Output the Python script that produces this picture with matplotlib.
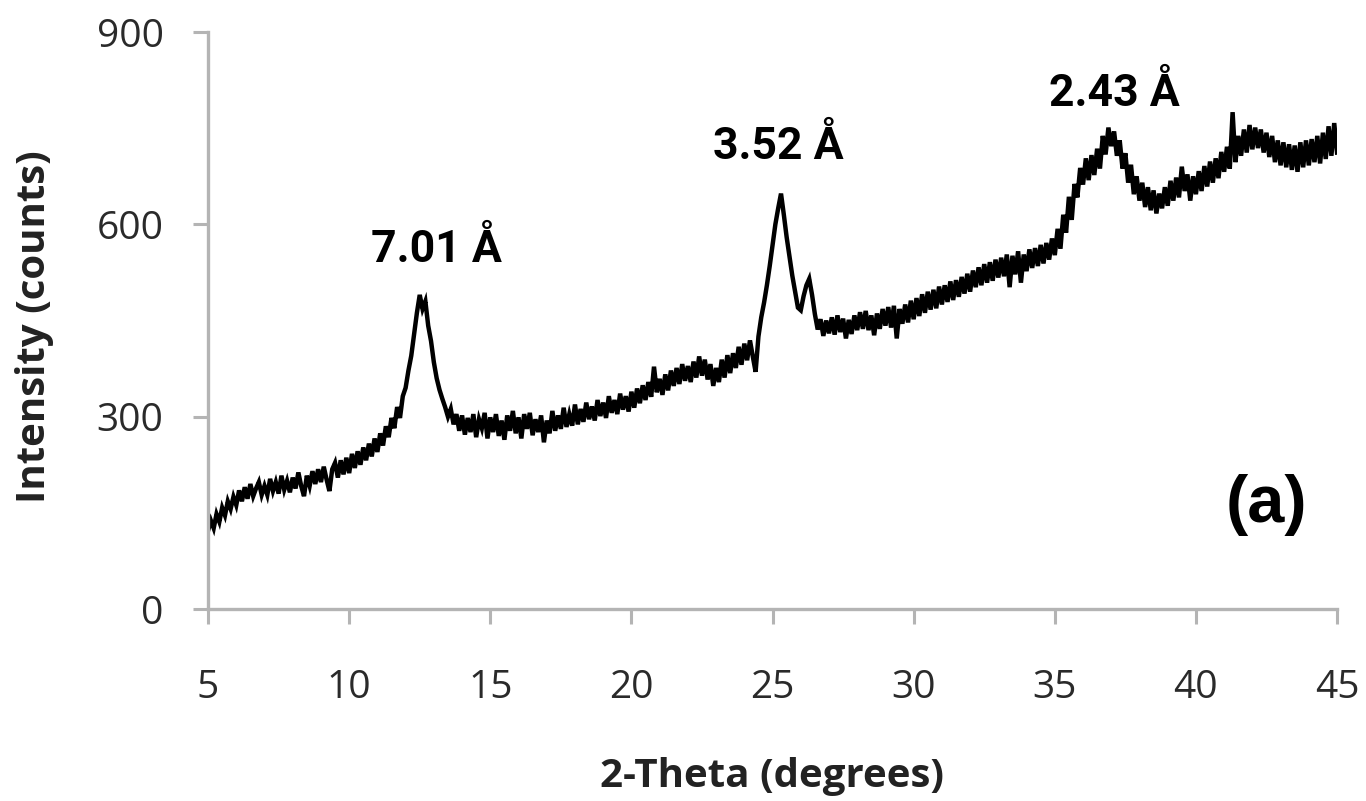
import matplotlib.pyplot as plt
import numpy as np

# XRD scan, 5-45 deg 2-theta, step 0.1 deg
theta_start = 5.0
theta_step = 0.1

intensity = [
    122, 138, 126, 148, 136, 158, 146, 168, 156, 175,   # 5
    162, 185, 168, 190, 172, 195, 176, 188, 198, 178,   # 6
    192, 178, 203, 184, 198, 180, 208, 186, 200, 182,   # 7
    205, 188, 213, 192, 176, 208, 192, 215, 195, 218,   # 8
    198, 222, 202, 184, 218, 228, 205, 232, 210, 236,   # 9
    212, 242, 220, 246, 225, 252, 232, 258, 238, 266,   # 10
    245, 274, 255, 285, 268, 298, 282, 315, 298, 332,   # 11
    345, 372, 395, 428, 462, 490, 468, 480, 442, 418,   # 12
    385, 360, 342, 328, 315, 300, 312, 288, 304, 278,   # 13
    302, 272, 298, 276, 304, 268, 296, 282, 306, 266,   # 14
    299, 276, 304, 270, 294, 264, 302, 278, 309, 274,   # 15
    299, 266, 304, 281, 306, 271, 296, 276, 302, 260,   # 16
    294, 274, 309, 278, 302, 281, 314, 284, 304, 286,   # 17
    319, 288, 312, 292, 322, 296, 316, 294, 326, 301,   # 18
    322, 298, 332, 306, 326, 304, 336, 311, 332, 308,   # 19
    339, 314, 344, 321, 349, 326, 354, 331, 378, 338,   # 20
    359, 334, 366, 341, 372, 348, 376, 351, 382, 356,   # 21
    379, 354, 386, 361, 394, 364, 389, 358, 382, 348,   # 22
    376, 354, 389, 361, 396, 368, 399, 376, 409, 381,   # 23
    414, 388, 419, 394, 370, 425, 455, 478, 505, 535,   # 24
    568, 600, 625, 648, 615, 580, 550, 520, 495, 470,   # 25
    466, 488, 505, 515, 490, 460, 436, 452, 426, 450,   # 26
    430, 455, 428, 458, 432, 453, 422, 451, 429, 458,   # 27
    435, 463, 437, 465, 435, 458, 427, 461, 437, 468,   # 28
    442, 471, 439, 473, 422, 468, 445, 475, 447, 481,   # 29
    452, 485, 457, 491, 462, 495, 467, 498, 469, 503,   # 30
    475, 505, 479, 511, 482, 513, 487, 518, 492, 523,   # 31
    495, 528, 502, 533, 505, 538, 509, 541, 512, 545,   # 32
    517, 548, 519, 553, 502, 551, 522, 558, 509, 553,   # 33
    527, 561, 532, 563, 535, 568, 539, 571, 545, 578,   # 34
    552, 593, 562, 615, 587, 643, 607, 663, 642, 688,   # 35
    662, 703, 669, 708, 677, 718, 687, 738, 709, 751,   # 36
    722, 745, 707, 731, 687, 711, 665, 693, 647, 675,   # 37
    637, 665, 627, 658, 622, 653, 617, 648, 625, 658,   # 38
    629, 668, 637, 673, 642, 690, 652, 678, 637, 675,   # 39
    647, 683, 652, 691, 659, 698, 665, 703, 672, 713,   # 40
    682, 721, 687, 775, 697, 738, 707, 748, 712, 755,   # 41
    717, 751, 719, 748, 712, 743, 705, 738, 697, 731,   # 42
    692, 728, 689, 725, 685, 723, 682, 728, 689, 731,   # 43
    692, 733, 697, 738, 695, 743, 702, 753, 707, 758,   # 44
    712,                                                # 45
]
two_theta = theta_start + theta_step * np.arange(len(intensity))

peak_labels = ['7.01 \u00c5', '3.52 \u00c5', '2.43 \u00c5']
peak_label_x = [13.1, 25.2, 37.1]
peak_label_y = [542, 702, 784]

x_ticks = [5, 10, 15, 20, 25, 30, 35, 40, 45]
y_ticks = [0, 300, 600, 900]

axis_grey = '#b4b4b4'

fig = plt.figure(figsize=(13.66, 8.01), dpi=100)
ax = fig.add_axes([0.1523, 0.2397, 0.8265, 0.7203])

ax.plot(two_theta, intensity, color='black', lw=3.2, solid_joinstyle='miter')

ax.set_xlim(5, 45)
ax.set_ylim(0, 900)
ax.set_xticks(x_ticks)
ax.set_yticks(y_ticks)

for s in ['top', 'right']:
    ax.spines[s].set_visible(False)
for s in ['left', 'bottom']:
    ax.spines[s].set_color(axis_grey)
    ax.spines[s].set_linewidth(2.4)

ax.tick_params(axis='both', color=axis_grey, width=2.2, length=11,
               labelcolor='#2a2a2a', labelsize=28)
ax.tick_params(axis='y', pad=21)
ax.tick_params(axis='x', pad=32)
for lab in ax.get_xticklabels() + ax.get_yticklabels():
    lab.set_family('Open Sans')

# peak d-spacings
for txt, px, py in zip(peak_labels, peak_label_x, peak_label_y):
    ax.text(px, py, txt, ha='center', va='baseline', fontsize=32,
            fontweight='bold', family='Roboto', color='black')

ax.text(42.5, 136, '(a)', ha='center', va='baseline', fontsize=48,
        fontweight='bold', family='Liberation Sans', color='black')

fig.text(772 / 1366, 1 - 776 / 801, '2-Theta (degrees)', ha='center',
         va='center', fontsize=29, fontweight='bold', family='Open Sans',
         color='#222222')
fig.text(35 / 1366, 1 - 327 / 801, 'Intensity (counts)', ha='center',
         va='center', rotation=90, fontsize=29, fontweight='bold',
         family='Open Sans', color='#222222')

fig.savefig('out.png', dpi=100, facecolor='white')
